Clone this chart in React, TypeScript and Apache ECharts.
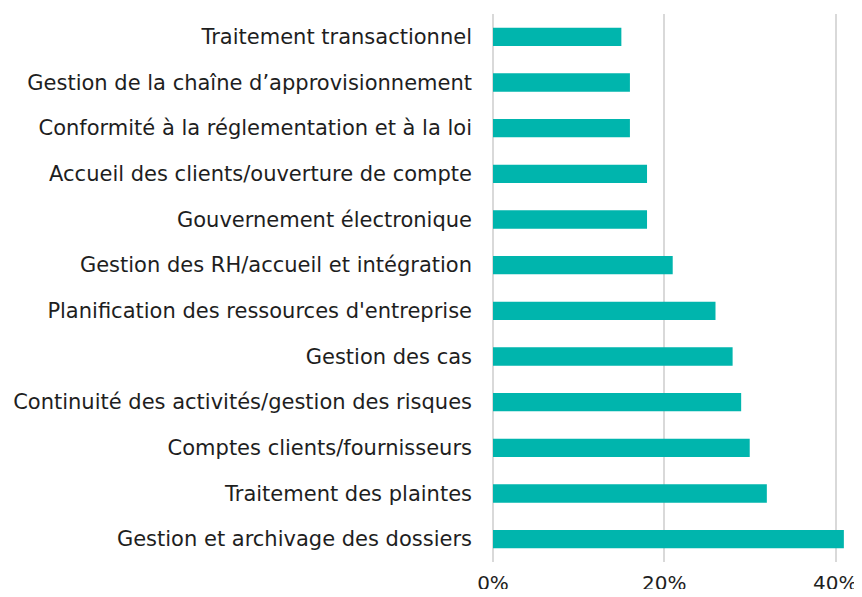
import React, { useEffect, useRef } from "react";
import * as echarts from "echarts";

const categories = [
  "Gestion et archivage des dossiers",
  "Traitement des plaintes",
  "Comptes clients/fournisseurs",
  "Continuité des activités/gestion des risques",
  "Gestion des cas",
  "Planification des ressources d'entreprise",
  "Gestion des RH/accueil et intégration",
  "Gouvernement électronique",
  "Accueil des clients/ouverture de compte",
  "Conformité à la réglementation et à la loi",
  "Gestion de la chaîne d’approvisionnement",
  "Traitement transactionnel",
];
const values = [41, 32, 30, 29, 28, 26, 21, 18, 18, 16, 16, 15];

export default function App() {
  const ref = useRef<HTMLDivElement>(null);
  useEffect(() => {
    const chart = echarts.init(ref.current!, null, { renderer: "svg" });
    chart.setOption({
      animation: false,
      grid: { left: 493, right: 26.7, top: 14, bottom: 35, containLabel: false },
      xAxis: {
        type: "value",
        min: 0,
        max: 40,
        interval: 20,
        axisLine: { show: false },
        axisTick: { show: false },
        splitLine: { show: true, lineStyle: { color: "#d9d9d9", width: 2 } },
        axisLabel: {
          formatter: "{value}%",
          color: "#1e1e1e",
          fontSize: 20,
          fontFamily: "DejaVu Sans",
          margin: 11,
        },
      },
      yAxis: {
        type: "category",
        data: categories,
        axisLine: { show: false },
        axisTick: { show: false },
        axisLabel: {
          color: "#1e1e1e",
          fontSize: 21,
          fontFamily: "DejaVu Sans",
          margin: 21,
        },
      },
      series: [
        {
          type: "bar",
          data: values,
          barCategoryGap: "60%",
          clip: false,
          itemStyle: { color: "#00B5AD" },
        },
      ],
    });
    return () => chart.dispose();
  }, []);
  return <div ref={ref} style={{ width: 862, height: 597, margin: -8 }} />;
}
